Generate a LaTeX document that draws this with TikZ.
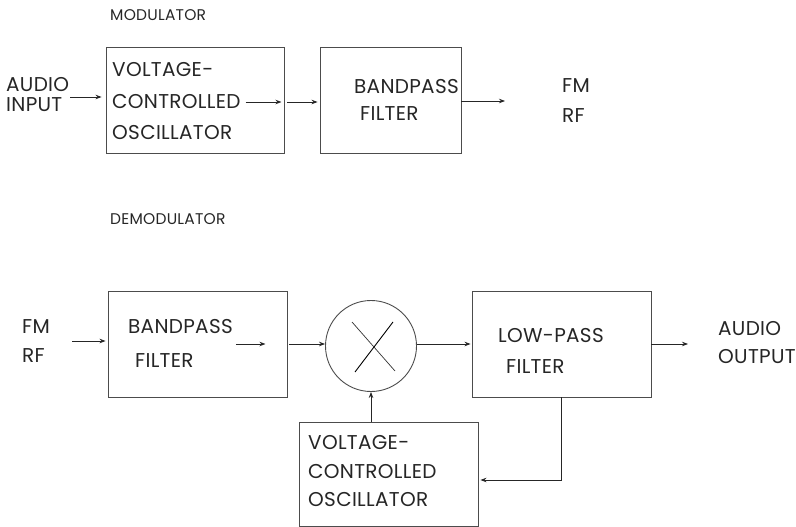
\documentclass[tikz,border=0pt]{standalone}
\usepackage{fontspec}
\setmainfont{Poppins}[LetterSpace=1.5]
\usetikzlibrary{positioning,arrows.meta}

\begin{document}
\begin{tikzpicture}[x=1pt, y=-1pt, >={Stealth[length=6pt,width=4.5pt]},
      blk/.style={rectangle, draw=black!70, line width=0.9pt, inner sep=0pt},
      txt/.style={anchor=west, inner sep=0pt, text=black!85,
                  font=\fontsize{20}{24}\selectfont},
      hdr/.style={anchor=west, inner sep=0pt, text=black!85,
                  font=\fontsize{15.5}{18}\selectfont},
      sig/.style={->, draw=black!85, line width=0.8pt}]
    \useasboundingbox (0,0) rectangle (796,527);

    % modulator
    \node[hdr] (modh) at (110,15) {MODULATOR};
    \node[blk, minimum width=178pt, minimum height=106pt] (vcoA) at (195,100) {};
    \node[blk, minimum width=141pt, minimum height=106pt] (bpfA) at (390.5,100) {};
    \node[txt] (audA) at (6,85) {AUDIO};
    \node[txt] (inpA) at (6,104.5) {INPUT};
    \node[txt] (volA) at (112,70) {VOLTAGE-};
    \node[txt] (ctlA) at (112,102) {CONTROLLED};
    \node[txt] (oscA) at (112,133) {OSCILLATOR};
    \node[txt] (bpA1) at (354,87) {BANDPASS};
    \node[txt] (bpA2) at (360,114) {FILTER};
    \node[txt] (fmA) at (562,86) {FM};
    \node[txt] (rfA) at (562,116) {RF};
    \coordinate (inA) at (70,97);
    \coordinate (outA) at (505,101);
    \draw[sig] (inA) -- ([xshift=-4pt]vcoA.west |- inA);
    \draw[sig] ([xshift=5pt]ctlA.east) -- ([xshift=-3pt]vcoA.east |- ctlA.east);
    \draw[sig] ([xshift=3pt]vcoA.east |- ctlA.east) -- ([xshift=-2pt]bpfA.west |- ctlA.east);
    \draw[sig] (bpfA.east |- outA) -- (outA);

    % demodulator
    \node[hdr] (demh) at (110,219) {DEMODULATOR};
    \node[blk, minimum width=179pt, minimum height=106pt] (bpfB) at (197.5,344) {};
    \node[draw=black!70, line width=0.9pt, circle, minimum size=91pt, inner sep=0pt] (mix) at (371,346) {};
    \node[blk, minimum width=179pt, minimum height=106pt] (lpf) at (561.5,344) {};
    \node[blk, minimum width=179pt, minimum height=104pt] (vcoB) at (388.5,474) {};
    \node[txt] (fmB) at (22,327) {FM};
    \node[txt] (rfB) at (22,356) {RF};
    \node[txt] (bpB1) at (128,327) {BANDPASS};
    \node[txt] (bpB2) at (135,361) {FILTER};
    \node[txt] (lpB1) at (498,336) {LOW-PASS};
    \node[txt] (lpB2) at (506,367) {FILTER};
    \node[txt] (audB) at (718,329) {AUDIO};
    \node[txt] (outpB) at (718,357) {OUTPUT};
    \node[txt] (volB) at (308,443) {VOLTAGE-};
    \node[txt] (ctlB) at (308,472) {CONTROLLED};
    \node[txt] (oscB) at (308,500) {OSCILLATOR};
    \draw[black!80, line width=0.7pt] ([shift={(-19,-24)}]mix.center) -- ([shift={(24,25)}]mix.center);
    \draw[black, line width=0.9pt] ([shift={(-16,26)}]mix.center) -- ([shift={(22,-24)}]mix.center);
    \coordinate (inB) at (72,341);
    \coordinate (outB) at (688,344);
    \draw[sig] (inB) -- ([xshift=-2pt]bpfB.west |- inB);
    \draw[sig] ([xshift=3pt]bpB1.east |- outB) -- ([xshift=-22pt]bpfB.east |- outB);
    \draw[sig] ([xshift=2pt]bpfB.east |- outB) -- (mix.west |- outB);
    \draw[sig] (mix.east |- outB) -- ([xshift=-1pt]lpf.west |- outB);
    \draw[sig] (lpf.east |- outB) -- (outB);
    \draw[sig] (mix.south |- vcoB.north) -- (mix.south);
    \draw[sig] (lpf.south) |- ([yshift=-6pt,xshift=2pt]vcoB.east);
  \end{tikzpicture}
\end{document}
